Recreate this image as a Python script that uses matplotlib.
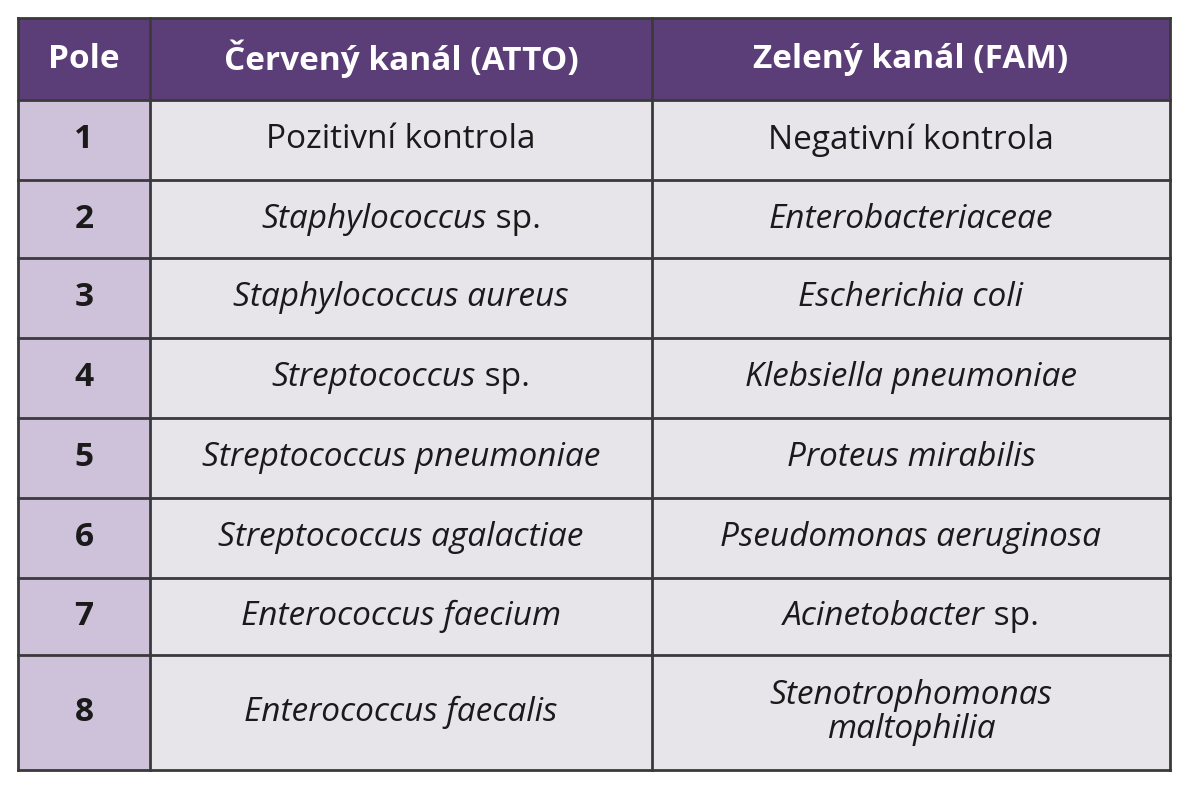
import matplotlib
matplotlib.use("Agg")
import matplotlib.pyplot as plt
from matplotlib.patches import Rectangle

headers = ["Pole", "Červený kanál (ATTO)", "Zelený kanál (FAM)"]
pole = ["1", "2", "3", "4", "5", "6", "7", "8"]
# each cell: list of (text, italic)
red_channel = [
    [("Pozitivní kontrola", False)],
    [("Staphylococcus", True), (" sp.", False)],
    [("Staphylococcus aureus", True)],
    [("Streptococcus", True), (" sp.", False)],
    [("Streptococcus pneumoniae", True)],
    [("Streptococcus agalactiae", True)],
    [("Enterococcus faecium", True)],
    [("Enterococcus faecalis", True)],
]
green_channel = [
    [("Negativní kontrola", False)],
    [("Enterobacteriaceae", True)],
    [("Escherichia coli", True)],
    [("Klebsiella pneumoniae", True)],
    [("Proteus mirabilis", True)],
    [("Pseudomonas aeruginosa", True)],
    [("Acinetobacter", True), (" sp.", False)],
    [("Stenotrophomonas\nmaltophilia", True)],
]

col_x = [18, 150, 652, 1170]
row_y = [18, 100, 180, 258, 338, 418, 498, 578, 655, 770]

fig = plt.figure(figsize=(11.93, 8), dpi=100)
ax = fig.add_axes([0, 0, 1, 1])
ax.set_xlim(0, 1193)
ax.set_ylim(800, 0)
ax.axis("off")

FS = 24
FONT = "Open Sans"
header_bg = "#5b3e78"
pole_bg = "#cdc2da"
cell_bg = "#e7e5ea"
line_c = "#3a3a3a"

renderer = fig.canvas.get_renderer()


def draw_parts(parts, cx, cy):
    texts = []
    for s, it in parts:
        t = ax.text(0, cy, s, fontsize=FS, family=FONT, style="italic" if it else "normal",
                    va="center", ha="left", color="#1a1a1a", linespacing=1.05)
        texts.append(t)
    widths = []
    inv = ax.transData.inverted()
    for t in texts:
        bb = t.get_window_extent(renderer)
        p0 = inv.transform((bb.x0, bb.y0))
        p1 = inv.transform((bb.x1, bb.y0))
        widths.append(p1[0] - p0[0])
    total = sum(widths)
    x = cx - total / 2
    for t, w in zip(texts, widths):
        if "\n" in t.get_text():
            t.set_ha("center")
            t.set_x(cx)
            t.set_multialignment("center")
        else:
            t.set_x(x)
        x += w


for c in range(3):
    x0, x1 = col_x[c], col_x[c + 1]
    ax.add_patch(Rectangle((x0, row_y[0]), x1 - x0, row_y[1] - row_y[0], fc=header_bg, ec="none"))
    ax.text((x0 + x1) / 2, (row_y[0] + row_y[1]) / 2, headers[c], fontsize=FS, family=FONT,
            weight="bold", color="white", ha="center", va="center")

for r in range(len(pole)):
    y0, y1 = row_y[r + 1], row_y[r + 2]
    cy = (y0 + y1) / 2
    for c in range(3):
        x0, x1 = col_x[c], col_x[c + 1]
        ax.add_patch(Rectangle((x0, y0), x1 - x0, y1 - y0, fc=pole_bg if c == 0 else cell_bg, ec="none"))
    ax.text((col_x[0] + col_x[1]) / 2, cy, pole[r], fontsize=FS, family=FONT, weight="bold",
            color="#1a1a1a", ha="center", va="center")
    draw_parts(red_channel[r], (col_x[1] + col_x[2]) / 2, cy)
    draw_parts(green_channel[r], (col_x[2] + col_x[3]) / 2, cy)

for y in row_y:
    ax.plot([col_x[0], col_x[-1]], [y, y], color=line_c, lw=2)
for x in col_x:
    ax.plot([x, x], [row_y[0], row_y[-1]], color=line_c, lw=2)

fig.savefig("out.png", dpi=100, facecolor="white")
